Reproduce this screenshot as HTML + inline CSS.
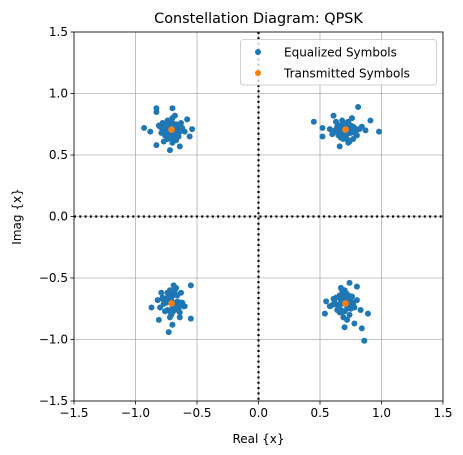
<!DOCTYPE html>
<html><head><meta charset="utf-8"><style>
body{margin:0;background:#fff;}
svg{display:block;font-family:"DejaVu Sans","Liberation Sans",sans-serif;}
</style></head><body>
<svg id="chart" width="463" height="455"></svg>
<script>
const xTicks=[-1.5,-1.0,-0.5,0.0,0.5,1.0,1.5];
const yTicks=[-1.5,-1.0,-0.5,0.0,0.5,1.0,1.5];
const xTickLabels=["−1.5","−1.0","−0.5","0.0","0.5","1.0","1.5"];
const yTickLabels=["−1.5","−1.0","−0.5","0.0","0.5","1.0","1.5"];
const transmittedX=[-0.707,0.707,-0.707,0.707];
const transmittedY=[0.707,0.707,-0.707,-0.707];
const equalizedX=[
-0.93,-0.83,-0.70,-0.83,-0.58,-0.54,-0.56,-0.83,-0.72,-0.64,-0.88,
-0.75,-0.68,-0.72,-0.66,-0.78,-0.74,-0.62,-0.70,-0.76,-0.67,-0.73,-0.80,-0.64,-0.69,-0.71,-0.77,-0.66,-0.74,-0.60,-0.79,-0.68,-0.72,-0.65,-0.75,-0.81,-0.70,-0.63,
-0.70,-0.68,-0.73,-0.71,-0.66,-0.74,-0.69,-0.72,-0.67,-0.75,-0.70,-0.65,-0.77,-0.72,-0.68,-0.64,-0.76,-0.70,-0.73,-0.67,-0.78,-0.71,-0.69,-0.74,
0.45,0.52,0.52,0.81,0.91,0.98,0.61,0.66,0.87,
0.70,0.75,0.66,0.73,0.62,0.78,0.68,0.80,0.71,0.64,0.76,0.69,0.74,0.60,0.82,0.67,0.72,0.77,0.63,0.70,0.79,0.65,0.73,0.68,0.75,0.58,0.84,
0.71,0.69,0.74,0.70,0.66,0.75,0.68,0.72,0.66,0.76,0.71,0.64,0.78,0.73,0.67,0.63,0.77,0.69,0.72,0.68,0.79,0.70,0.74,0.65,
-0.55,-0.55,-0.73,-0.87,-0.81,-0.70,-0.64,-0.69,
-0.72,-0.66,-0.76,-0.70,-0.62,-0.78,-0.68,-0.74,-0.80,-0.64,-0.71,-0.75,-0.67,-0.73,-0.60,-0.77,-0.69,-0.65,-0.82,-0.72,-0.63,-0.76,-0.70,-0.66,-0.79,-0.74,-0.61,
-0.70,-0.68,-0.73,-0.71,-0.66,-0.75,-0.69,-0.72,-0.67,-0.76,-0.70,-0.65,-0.78,-0.72,-0.68,-0.64,-0.74,-0.70,-0.73,-0.67,-0.77,-0.71,-0.69,-0.74,
0.86,0.84,0.78,0.70,0.89,0.54,0.55,0.74,0.80,0.83,
0.70,0.66,0.75,0.62,0.72,0.68,0.78,0.64,0.71,0.60,0.74,0.67,0.76,0.69,0.63,0.73,0.80,0.65,0.70,0.58,0.77,0.68,0.72,0.61,0.75,0.66,
0.70,0.68,0.73,0.71,0.66,0.74,0.69,0.72,0.67,0.75,0.70,0.65,0.77,0.72,0.68,0.64,0.76,0.70,0.73,0.67,0.62,0.71,0.69,0.74
];
const equalizedY=[
0.72,0.88,0.88,0.85,0.79,0.71,0.65,0.58,0.54,0.57,0.69,
0.70,0.74,0.64,0.68,0.76,0.78,0.72,0.80,0.66,0.62,0.70,0.73,0.75,0.67,0.77,0.61,0.71,0.63,0.69,0.68,0.82,0.74,0.65,0.72,0.74,0.60,0.76,
0.72,0.70,0.69,0.74,0.73,0.72,0.67,0.66,0.68,0.70,0.76,0.71,0.68,0.78,0.64,0.69,0.74,0.63,0.75,0.75,0.71,0.68,0.72,0.66,
0.77,0.72,0.65,0.89,0.78,0.69,0.82,0.57,0.70,
0.76,0.68,0.74,0.62,0.70,0.72,0.78,0.66,0.64,0.73,0.80,0.69,0.61,0.67,0.71,0.66,0.75,0.63,0.77,0.70,0.68,0.72,0.60,0.65,0.74,0.71,0.73,
0.72,0.70,0.68,0.74,0.73,0.71,0.66,0.67,0.69,0.70,0.75,0.71,0.68,0.77,0.64,0.69,0.73,0.63,0.75,0.74,0.71,0.67,0.72,0.66,
-0.56,-0.83,-0.94,-0.74,-0.84,-0.88,-0.82,-0.56,
-0.60,-0.64,-0.68,-0.72,-0.70,-0.66,-0.76,-0.62,-0.74,-0.78,-0.80,-0.70,-0.58,-0.66,-0.73,-0.71,-0.64,-0.76,-0.68,-0.82,-0.62,-0.77,-0.75,-0.69,-0.62,-0.67,-0.73,
-0.70,-0.72,-0.68,-0.66,-0.74,-0.70,-0.75,-0.64,-0.71,-0.69,-0.62,-0.73,-0.67,-0.77,-0.60,-0.70,-0.66,-0.78,-0.63,-0.72,-0.71,-0.68,-0.74,-0.76,
-1.01,-0.91,-0.87,-0.90,-0.79,-0.79,-0.69,-0.54,-0.57,-0.76,
-0.60,-0.64,-0.66,-0.70,-0.72,-0.68,-0.74,-0.76,-0.62,-0.72,-0.80,-0.58,-0.70,-0.82,-0.66,-0.64,-0.68,-0.74,-0.77,-0.73,-0.71,-0.60,-0.84,-0.67,-0.75,-0.78,
-0.71,-0.69,-0.73,-0.66,-0.72,-0.70,-0.64,-0.75,-0.68,-0.71,-0.62,-0.74,-0.70,-0.67,-0.78,-0.72,-0.65,-0.69,-0.73,-0.76,-0.70,-0.63,-0.66,-0.71
];
const NS="http://www.w3.org/2000/svg";
const svg=document.getElementById('chart');
const L=74,R=443,T=32,B=401;
const sx=v=>L+(v+1.5)/3*(R-L);
const sy=v=>B-(v+1.5)/3*(B-T);
function mk(tag,attrs,parent){const e=document.createElementNS(NS,tag);for(const k in attrs)e.setAttribute(k,attrs[k]);(parent||svg).appendChild(e);return e;}
xTicks.forEach((t,i)=>{
const g=mk('line',{x1:sx(t),x2:sx(t),y1:T,y2:B,stroke:'#b0b0b0','stroke-width':0.8});


mk('line',{x1:sx(t),x2:sx(t),y1:B,y2:B+3.5,stroke:'#000','stroke-width':0.8});
const tx=mk('text',{x:sx(t),y:B+16,'text-anchor':'middle','font-size':12,fill:'#000'});tx.textContent=xTickLabels[i];


});
yTicks.forEach((t,i)=>{
const g=mk('line',{x1:L,x2:R,y1:sy(t),y2:sy(t),stroke:'#b0b0b0','stroke-width':0.8});


mk('line',{x1:L-3.5,x2:L,y1:sy(t),y2:sy(t),stroke:'#000','stroke-width':0.8});
const tx=mk('text',{x:L-6,y:sy(t)+4,'text-anchor':'end','font-size':12,fill:'#000'});tx.textContent=yTickLabels[i];


});
const zx=mk('line',{x1:sx(0),x2:sx(0),y1:T,y2:B,stroke:'#000','stroke-width':2.2,'stroke-dasharray':'2,3.3'});


const zy=mk('line',{x1:L,x2:R,y1:sy(0),y2:sy(0),stroke:'#000','stroke-width':2.2,'stroke-dasharray':'2,3.3'});


equalizedX.forEach((x,i)=>{
const c=mk('circle',{cx:sx(x),cy:sy(equalizedY[i]),r:3,fill:'#1f77b4'});


});
transmittedX.forEach((x,i)=>{
const c=mk('circle',{cx:sx(x),cy:sy(transmittedY[i]),r:3.3,fill:'#ff7f0e'});


});
const fr=mk('rect',{x:L,y:T,width:R-L,height:B-T,fill:'none',stroke:'#000','stroke-width':0.8});


</script>
<svg style="position:absolute;left:0;top:0" width="463" height="455">
<text x="258.5" y="23" text-anchor="middle" font-size="14.4" fill="#000" font-family="DejaVu Sans,sans-serif">Constellation Diagram: QPSK</text>
<text x="258.5" y="443" text-anchor="middle" font-size="12" fill="#000" font-family="DejaVu Sans,sans-serif">Real {x}</text>
<text x="21" y="216.5" text-anchor="middle" font-size="12" fill="#000" font-family="DejaVu Sans,sans-serif" transform="rotate(-90 21 216.5)">Imag {x}</text>
<g>
<rect x="240.5" y="39.5" width="196" height="45.5" rx="3" fill="#fff" fill-opacity="0.8" stroke="#d0d0d0" stroke-width="1"/>
<circle cx="258" cy="52" r="3" fill="#1f77b4"/>
<text x="284" y="56.5" font-size="12" fill="#000" font-family="DejaVu Sans,sans-serif">Equalized Symbols</text>
<circle cx="258" cy="73" r="3" fill="#ff7f0e"/>
<text x="284" y="77.5" font-size="12" fill="#000" font-family="DejaVu Sans,sans-serif">Transmitted Symbols</text>
</g>
</svg>
</body></html>
